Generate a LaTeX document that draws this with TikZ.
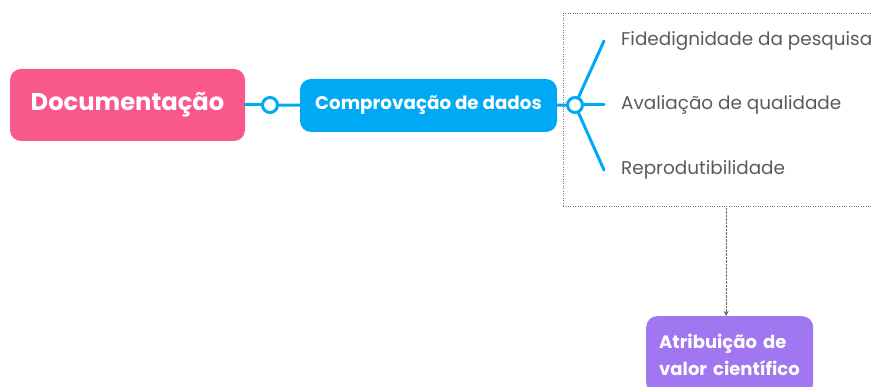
\documentclass[tikz,border=0pt]{standalone}
\usepackage{fontspec}
\setmainfont{Poppins}
\usetikzlibrary{arrows.meta}
\definecolor{pinkbox}{HTML}{F8588A}
\definecolor{bluebox}{HTML}{00A9F4}
\definecolor{purplebox}{HTML}{A077F0}
\definecolor{graytext}{HTML}{5A5A5A}

\begin{document}
\begin{tikzpicture}[x=1pt,y=-1pt,
  topic/.style={rounded corners=11pt,inner sep=0pt,text=white,font=\bfseries},
  knot/.style={circle,draw=bluebox,line width=3pt,fill=white,minimum size=15pt,inner sep=0pt},
  branch/.style={draw=bluebox,line width=3pt,line cap=round},
  leaf/.style={anchor=west,inner sep=0pt,text=graytext,font=\fontsize{18.4}{22}\selectfont}]
  \useasboundingbox (0,0) rectangle (873,387);
                \node[topic,fill=pinkbox,minimum width=235pt,minimum height=72pt,font=\fontsize{24.2}{30}\selectfont\bfseries] (doc) at (127.5,105) {Documentação};
                \node[knot] (k1) at (270,105) {};
                \node[topic,fill=bluebox,minimum width=257pt,minimum height=53pt,font=\fontsize{18.3}{22}\selectfont\bfseries] (comp) at (428.5,105.5) {Comprovação de dados};
                \node[draw=black!55,dotted,minimum width=326pt,minimum height=193pt,anchor=north west] (box) at (563,13) {};
                \coordinate (f1) at (604,41);
                \coordinate (f2) at (604,105);
                \coordinate (f3) at (604,170);
                \node[leaf] (l1) at (621,41) {Fidedignidade da pesquisa};
                \node[leaf] (l2) at (621,105) {Avaliação de qualidade};
                \node[leaf] (l3) at (621,170) {Reprodutibilidade};
                \node[topic,fill=purplebox,inner xsep=13pt,inner ysep=18pt,anchor=north west,align=left,text width=141pt,font=\fontsize{18}{27}\selectfont\bfseries] (val) at (646,316) {Atribuição de\\valor científico};

                \path [branch] (doc) edge (k1);
                \path [branch] (k1) edge (comp);
                \coordinate (k2c) at (575,105);
                \path [branch] (comp) edge (k2c);
                \path [branch] (k2c) edge (f1);
                \path [branch] (k2c) edge (f2);
                \path [branch] (k2c) edge (f3);
                \node[knot] (k2) at (k2c) {};
                \draw[densely dotted,black!60,-{Stealth[length=5pt,width=5pt]}] (box.south) -- (box.south |- val.north);
            \end{tikzpicture}
\end{document}
